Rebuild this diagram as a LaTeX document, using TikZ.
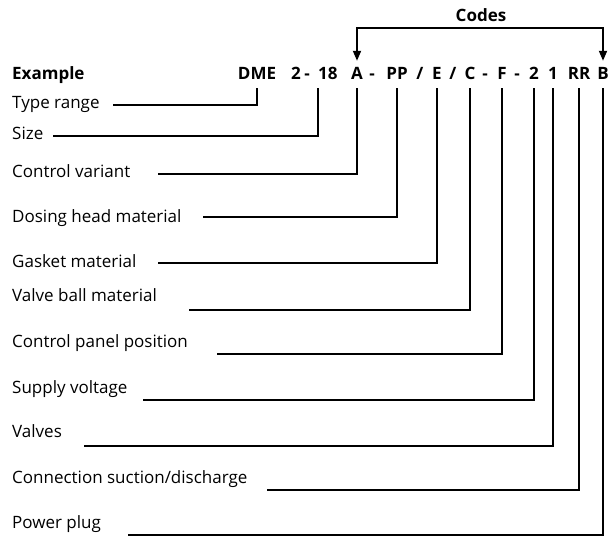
\documentclass[tikz,border=0pt]{standalone}
\usepackage{fontspec}
\setmainfont{Open Sans}
\usetikzlibrary{arrows.meta}

\tikzset{
  lbl/.style={anchor=base west, inner sep=0pt, font=\fontsize{17}{20}\selectfont},
  hdr/.style={anchor=base west, inner sep=0pt, font=\fontsize{17}{20}\selectfont\bfseries},
  code/.style={anchor=base, inner xsep=0pt, inner ysep=8pt, text height=11pt, text depth=0pt,
    font=\fontsize{17}{20}\selectfont\bfseries},
  lead/.style={line width=1.8pt},
  tip/.tip={Triangle[length=10pt,width=8pt]}
}

\begin{document}
\begin{tikzpicture}[x=1pt,y=-1pt]
            \useasboundingbox (0,0) rectangle (608,537);
            % header row
            \node [hdr] (ex) at (12,80) {Example};
            \node [code] (cDME) at (257,80) {DME};
            \node [code] (cTwoA) at (296,80) {2};
            \node [code] (dA) at (307,80) {-};
            \node [code, anchor=base west] (c18) at (318,80) {18};
            \node [code] (cA) at (357,80) {A};
            \node [code] (dB) at (372,80) {-};
            \node [code] (cPP) at (397,80) {PP};
            \node [code] (sA) at (420,80) {/};
            \node [code] (cE) at (437,80) {E};
            \node [code] (sB) at (453,80) {/};
            \node [code] (cC) at (470,80) {C};
            \node [code] (dC) at (485,80) {-};
            \node [code] (cF) at (502,80) {F};
            \node [code] (dD) at (517,80) {-};
            \node [code] (cTwoB) at (534,80) {2};
            \node [code] (cOne) at (553,80) {1};
            \node [code] (cRR) at (579,80) {RR};
            \node [code] (cB) at (603,80) {B};
            % codes bracket
            \node [hdr, anchor=base] (codes) at (481,22) {Codes};
            \coordinate (bar) at (481,28);
            \draw [lead, tip-tip] (cA.north) |- (bar) -| (cB.north);
            % labels
            \node [lbl] (lType) at (12,109) {Type range};
            \node [lbl] (lSize) at (12,140) {Size};
            \node [lbl] (lVariant) at (12,178) {Control variant};
            \node [lbl] (lHead) at (12,223) {Dosing head material};
            \node [lbl] (lGasket) at (12,268) {Gasket material};
            \node [lbl] (lBall) at (12,302) {Valve ball material};
            \node [lbl] (lPanel) at (12,348) {Control panel position};
            \node [lbl] (lVolt) at (12,393) {Supply voltage};
            \node [lbl] (lValves) at (12,437) {Valves};
            \node [lbl] (lConn) at (12,483) {Connection suction/discharge};
            \node [lbl] (lPlug) at (12,528) {Power plug};
            % free ends of the leader lines
            \coordinate (eType) at (113,105);
            \coordinate (eSize) at (53,136);
            \coordinate (eVariant) at (158,174);
            \coordinate (eHead) at (203,217);
            \coordinate (eGasket) at (158,263);
            \coordinate (eBall) at (189,310);
            \coordinate (ePanel) at (217,354);
            \coordinate (eVolt) at (143,400);
            \coordinate (eValves) at (84,446);
            \coordinate (eConn) at (267,490);
            \coordinate (ePlug) at (128,535);
            % leader lines
            \draw [lead] (cDME.south) |- (eType);
            \draw [lead] (c18.south west) |- (eSize);
            \draw [lead] (cA.south) |- (eVariant);
            \draw [lead] (cPP.south) |- (eHead);
            \draw [lead] (cE.south) |- (eGasket);
            \draw [lead] (cC.south) |- (eBall);
            \draw [lead] (cF.south) |- (ePanel);
            \draw [lead] (cTwoB.south) |- (eVolt);
            \draw [lead] (cOne.south) |- (eValves);
            \draw [lead] (cRR.south) |- (eConn);
            \draw [lead] (cB.south) |- (ePlug);
\end{tikzpicture}
\end{document}
